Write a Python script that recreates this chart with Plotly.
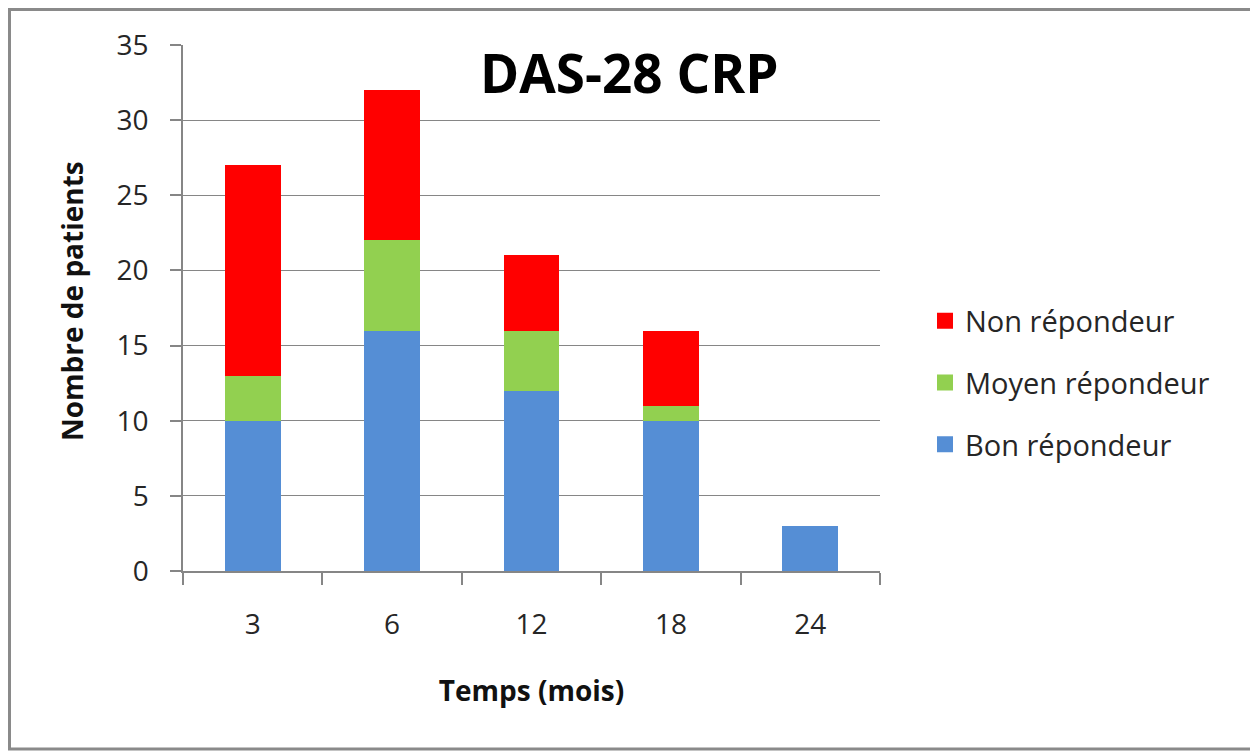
import plotly.graph_objects as go

categories = ["3", "6", "12", "18", "24"]
bon = [10, 16, 12, 10, 3]
moyen = [3, 6, 4, 1, 0]
non = [14, 10, 5, 5, 0]

series_names = ["Bon répondeur", "Moyen répondeur", "Non répondeur"]
series_colors = ["#558ED5", "#92D050", "#FF0000"]
y_ticks = [0, 5, 10, 15, 20, 25, 30, 35]

FONT = "Open Sans"
TXT = "#262626"

# The page body has an 8px margin, so the figure is sized/shifted accordingly.
OFF = 8
W, H = 1258 - OFF, 753 - OFF
PL, PR, PT, PB = 183, 880, 45, 571  # plot-area edges in reference pixels
PW, PH = PR - PL, PB - PT


def px(xr):
    return (xr - PL) / PW


def py(yr):
    return (PB - yr) / PH


fig = go.Figure()
for name, vals, col in zip(series_names, [bon, moyen, non], series_colors):
    fig.add_trace(go.Bar(
        x=categories, y=vals, name=name, showlegend=False,
        marker=dict(color=col, line=dict(width=0)),
    ))
# legend entries (top to bottom: Non, Moyen, Bon) with larger square keys
for name, col in reversed(list(zip(series_names, series_colors))):
    fig.add_trace(go.Scatter(
        x=[None], y=[None], mode="markers", name=name, legendgroup=name,
        marker=dict(symbol="square", size=17, color=col),
    ))

fig.update_layout(
    width=W, height=H,
    barmode="stack", bargap=0.6,
    plot_bgcolor="white", paper_bgcolor="white",
    margin=dict(l=PL - OFF, r=W - (PR - OFF), t=PT - OFF, b=H - (PB - OFF)),
    font=dict(family=FONT, color=TXT, size=27),
    showlegend=True,
    legend=dict(
        x=px(925), xanchor="left", y=py(383), yanchor="middle",
        traceorder="grouped", tracegroupgap=21,
        font=dict(size=29, family=FONT, color=TXT),
        itemwidth=30,
    ),
    xaxis=dict(
        type="category", showline=True, linecolor="#868686", linewidth=1.5,
        ticks="outside", tickson="boundaries", ticklen=12, tickcolor="#868686",
        tickwidth=1.5, showgrid=False,
        tickfont=dict(size=28, family=FONT, color=TXT),
        ticklabelstandoff=28,
        title=dict(text="<b>Temps (mois)</b>", font=dict(size=28, family=FONT, color="#111111"), standoff=40),
    ),
    yaxis=dict(
        range=[0, 35], tickvals=y_ticks, showline=True, linecolor="#868686", linewidth=1.5,
        ticks="outside", ticklen=11, tickcolor="#868686", tickwidth=1.5,
        showgrid=True, gridcolor="#868686", gridwidth=1.2, zeroline=False,
        tickfont=dict(size=28, family=FONT, color=TXT),
        ticklabelstandoff=16,
    ),
)

fig.add_annotation(
    text="<b>Nombre de patients</b>", xref="paper", yref="paper",
    x=px(72), y=py(301), xanchor="center", yanchor="middle", textangle=-90,
    showarrow=False, font=dict(size=28, family=FONT, color="#111111"),
)

fig.add_annotation(
    text="<b>DAS-28 CRP</b>", xref="paper", yref="paper",
    x=px(629), y=py(72), xanchor="center", yanchor="middle",
    showarrow=False, font=dict(size=53, family=FONT, color="#000000"),
)

fig.add_shape(
    type="rect", xref="paper", yref="paper",
    x0=px(9.5), x1=px(1253),
    y0=py(749), y1=py(9.5),
    line=dict(color="#8A8A8A", width=3), fillcolor="rgba(0,0,0,0)", layer="below",
)

fig.write_html("out.html")
